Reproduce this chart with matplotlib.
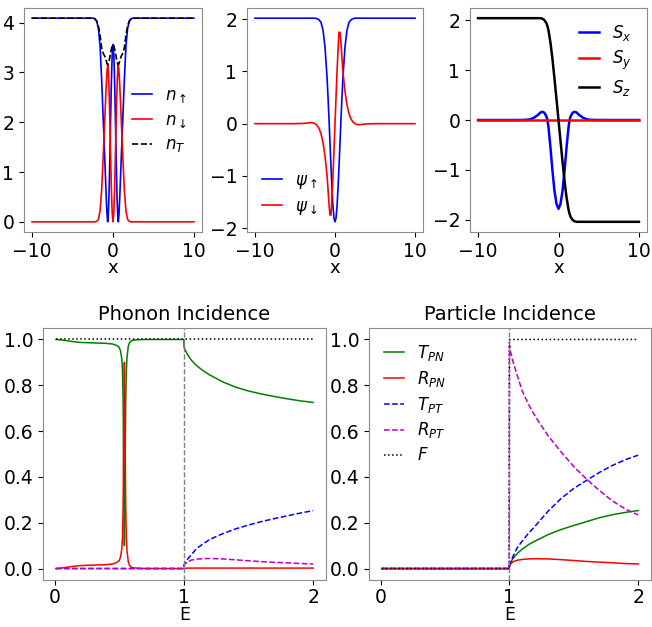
import matplotlib
matplotlib.use('Agg')
import matplotlib.pyplot as plt

# ---- top row: soliton profiles ----
x_n = [-10, -3, -2.5, -2.25, -2.0, -1.8, -1.6, -1.4, -1.2, -1.0, -0.85, -0.75, -0.66, -0.6, -0.5,
       -0.4, -0.3, -0.2, -0.1, 0, 0.1, 0.2, 0.3, 0.4, 0.5, 0.6, 0.66, 0.75, 0.85, 1.0,
       1.2, 1.4, 1.6, 1.8, 2.0, 2.25, 2.5, 3, 10]
n_up = [4.09, 4.09, 4.09, 4.08, 4.02, 3.88, 3.53, 2.85, 2.02, 1.2, 0.55, 0.18, 0.0, 0.07, 0.49,
        1.20, 2.03, 2.81, 3.36, 3.56, 3.36, 2.81, 2.03, 1.20, 0.49, 0.07, 0.0, 0.18, 0.55, 1.2,
        2.02, 2.85, 3.53, 3.88, 4.02, 4.08, 4.09, 4.09, 4.09]
n_down = [0, 0, 0, 0.0, 0.01, 0.05, 0.22, 0.64, 1.36, 2.12, 2.7, 3.0, 3.16, 3.10, 2.72,
          2.10, 1.36, 0.66, 0.18, 0, 0.18, 0.66, 1.36, 2.10, 2.72, 3.10, 3.16, 3.0, 2.7, 2.12,
          1.36, 0.64, 0.22, 0.05, 0.01, 0.0, 0, 0, 0]
n_tot = [4.09, 4.09, 4.09, 4.08, 4.03, 3.93, 3.75, 3.49, 3.38, 3.32, 3.25, 3.18, 3.16, 3.17, 3.21,
         3.30, 3.39, 3.47, 3.54, 3.56, 3.54, 3.47, 3.39, 3.30, 3.21, 3.17, 3.16, 3.18, 3.25, 3.32,
         3.38, 3.49, 3.75, 3.93, 4.03, 4.08, 4.09, 4.09, 4.09]

x_psi = [-10, -5, -4, -3.5, -3, -2.75, -2.5, -2.25, -2, -1.75, -1.5, -1.25, -1.0, -0.875, -0.75,
         -0.625, -0.5, -0.375, -0.25, -0.125, 0, 0.125, 0.25, 0.375, 0.5, 0.625, 0.75, 0.875,
         1.0, 1.25, 1.5, 1.75, 2.0, 2.25, 2.5, 2.75, 3, 3.5, 4, 5, 10]
psi_up = [2.02, 2.02, 2.02, 2.02, 2.02, 2.02, 2.02, 2.01, 1.99, 1.94, 1.79, 1.47, 0.90, 0.52, 0.09,
          -0.37, -0.83, -1.25, -1.59, -1.81, -1.88, -1.81, -1.59, -1.25, -0.83, -0.37, 0.09, 0.52,
          0.90, 1.47, 1.79, 1.94, 1.99, 2.01, 2.02, 2.02, 2.02, 2.02, 2.02, 2.02, 2.02]
psi_down = [0, 0, 0.005, 0.012, 0.02, 0.015, 0.0, -0.03, -0.09, -0.19, -0.36, -0.62, -0.98, -1.25, -1.55,
            -1.75, -1.75, -1.40, -0.98, -0.50, 0, 0.50, 0.98, 1.40, 1.75, 1.75, 1.55, 1.25,
            0.98, 0.62, 0.36, 0.19, 0.09, 0.03, 0.0, -0.015, -0.02, -0.012, -0.005, 0, 0]

x_s = [-10, -5, -4, -3.5, -3, -2.5, -2.25, -2, -1.75, -1.5, -1.375, -1.25, -1, -0.75, -0.5, -0.25,
       0, 0.25, 0.5, 0.75, 1, 1.25, 1.375, 1.5, 1.75, 2, 2.25, 2.5, 3, 3.5, 4, 5, 10]
s_x = [0, 0, 0.004, 0.015, 0.05, 0.11, 0.15, 0.165, 0.145, 0.07, 0.0, -0.14, -0.55, -1.02, -1.42, -1.68,
       -1.78, -1.68, -1.42, -1.02, -0.55, -0.14, 0.0, 0.07, 0.145, 0.165, 0.15, 0.11, 0.05, 0.015, 0.004, 0, 0]
s_z = [2.04, 2.04, 2.04, 2.04, 2.04, 2.04, 2.04, 2.03, 2.0, 1.94, 1.88, 1.8, 1.55, 1.22, 0.83, 0.42,
       0, -0.42, -0.83, -1.22, -1.55, -1.8, -1.88, -1.94, -2.0, -2.03, -2.04, -2.04, -2.04, -2.04, -2.04, -2.04, -2.04]
x_sy = [-10, 10]
s_y = [0, 0]

# ---- bottom row: scattering coefficients ----
E_low = [0.01, 0.05, 0.1, 0.15, 0.2, 0.25, 0.3, 0.35, 0.4, 0.45, 0.48, 0.5, 0.51, 0.52, 0.525,
         0.53, 0.535, 0.54, 0.545, 0.55, 0.555, 0.56, 0.57, 0.58, 0.6, 0.65, 0.7, 0.8, 0.9, 1.0]
T_PN_ph_low = [1.0, 0.998, 0.994, 0.99, 0.987, 0.986, 0.985, 0.984, 0.983, 0.98, 0.974, 0.965, 0.95, 0.915, 0.87,
               0.74, 0.4, 0.1, 0.38, 0.72, 0.86, 0.92, 0.97, 0.987, 0.996, 0.999, 1.0, 1.0, 1.0, 1.0]
R_PN_ph_low = [0.0, 0.002, 0.006, 0.01, 0.013, 0.014, 0.015, 0.016, 0.017, 0.02, 0.026, 0.035, 0.05, 0.085, 0.13,
               0.26, 0.6, 0.9, 0.62, 0.28, 0.14, 0.08, 0.03, 0.013, 0.004, 0.001, 0.0, 0.0, 0.0, 0.0]

E_high = [1.001, 1.005, 1.01, 1.03, 1.06, 1.1, 1.15, 1.2, 1.3, 1.4, 1.5, 1.6, 1.7, 1.8, 1.9, 2.0]
T_PN_ph_high = [0.97, 0.962, 0.955, 0.932, 0.908, 0.885, 0.863, 0.845, 0.815, 0.792, 0.775, 0.762, 0.751, 0.741, 0.732, 0.725]
R_PN_ph_high = [0.001, 0.001, 0.001, 0.002, 0.002, 0.002, 0.002, 0.002, 0.002, 0.002, 0.002, 0.002, 0.002, 0.002, 0.002, 0.002]
T_PT_ph_high = [0.015, 0.02, 0.025, 0.042, 0.062, 0.088, 0.108, 0.127, 0.152, 0.173, 0.19, 0.205, 0.218, 0.23, 0.242, 0.253]
R_PT_ph_high = [0.014, 0.018, 0.021, 0.03, 0.037, 0.041, 0.043, 0.044, 0.042, 0.038, 0.034, 0.03, 0.027, 0.025, 0.022, 0.02]

T_PN_pa_high = [0.01, 0.02, 0.027, 0.045, 0.065, 0.085, 0.105, 0.12, 0.148, 0.17, 0.188, 0.205, 0.222, 0.235, 0.245, 0.253]
R_PN_pa_high = [0.008, 0.015, 0.02, 0.03, 0.036, 0.04, 0.042, 0.043, 0.042, 0.039, 0.035, 0.031, 0.028, 0.025, 0.022, 0.02]
T_PT_pa_high = [0.01, 0.02, 0.03, 0.055, 0.09, 0.12, 0.155, 0.185, 0.25, 0.305, 0.35, 0.385, 0.42, 0.45, 0.475, 0.495]
R_PT_pa_high = [0.975, 0.96, 0.945, 0.9, 0.845, 0.775, 0.715, 0.665, 0.58, 0.51, 0.445, 0.39, 0.34, 0.295, 0.26, 0.234]

E_ph_zero = [0.01, 1.0]       # phonon T_PT / R_PT below the gap
E_pa_zero = [0.01, 0.999]     # particle channels below the gap
zero2 = [0.0, 0.0]
E_F_ph = [0.01, 2.0]
F_ph = [1.0, 1.0]
E_F_pa = [0.01, 0.999, 1.0, 2.0]
F_pa = [0.0, 0.0, 1.0, 1.0]

labels_pa = [r'$T_{PN}$', r'$R_{PN}$', r'$T_{PT}$', r'$R_{PT}$', r'$F$']

# ---- figure ----
W, H = 652, 627
plt.rcParams['font.size'] = 13.5
plt.rcParams['axes.labelsize'] = 13
plt.rcParams['axes.edgecolor'] = '0.55'
fig = plt.figure(figsize=(W / 100, H / 100), dpi=100)


def box(l, t, r, b):
    return [l / W, 1 - b / H, (r - l) / W, (b - t) / H]


leg_kw = dict(frameon=False, fontsize=12, handlelength=1.2, labelspacing=0.35)

ax1 = fig.add_axes(box(24, 8, 202, 232))
ax1.plot(x_n, n_up, 'b', lw=1.2, label=r'$n_\uparrow$')
ax1.plot(x_n, n_down, 'r', lw=1.2, label=r'$n_\downarrow$')
ax1.plot(x_n, n_tot, 'k--', lw=1.2, label=r'$n_T$')
ax1.set_xlabel('x', labelpad=-1)
ax1.legend(loc='center right', **leg_kw)

ax2 = fig.add_axes(box(247, 8, 423, 232))
ax2.plot(x_psi, psi_up, 'b', lw=1.2, label=r'$\psi_\uparrow$')
ax2.plot(x_psi, psi_down, 'r', lw=1.2, label=r'$\psi_\downarrow$')
ax2.set_xlabel('x', labelpad=-1)
ax2.legend(loc='lower left', **leg_kw)

ax3 = fig.add_axes(box(470, 8, 647, 232))
ax3.plot(x_s, s_x, 'b', lw=1.8, label=r'$S_x$')
ax3.plot(x_sy, s_y, 'r', lw=1.8, label=r'$S_y$')
ax3.plot(x_s, s_z, 'k', lw=1.8, label=r'$S_z$')
ax3.set_xlabel('x', labelpad=-1)
ax3.legend(loc='upper right', **leg_kw)

ax4 = fig.add_axes(box(43, 328, 326, 580))
ax4.plot(E_low + E_high, T_PN_ph_low + T_PN_ph_high, 'g', lw=1.1)
ax4.plot(E_low + E_high, R_PN_ph_low + R_PN_ph_high, 'r', lw=1.1)
ax4.plot(E_ph_zero + E_high, zero2 + T_PT_ph_high, 'b--', lw=1.1)
ax4.plot(E_ph_zero + E_high, zero2 + R_PT_ph_high, 'm--', lw=1.1)
ax4.plot(E_F_ph, F_ph, 'k:', lw=1.1)
ax4.axvline(1.0, color='gray', ls='--', lw=1.0)
ax4.set_title('Phonon Incidence', fontsize=14)
ax4.set_xlabel('E', fontsize=12.5, labelpad=-0.5)
ax4.set_xticks([0, 1, 2])
ax4.tick_params(axis='x', pad=2)

ax5 = fig.add_axes(box(369, 328, 651, 580))
ax5.plot(E_pa_zero + E_high, zero2 + T_PN_pa_high, 'g', lw=1.1, label=labels_pa[0])
ax5.plot(E_pa_zero + E_high, zero2 + R_PN_pa_high, 'r', lw=1.1, label=labels_pa[1])
ax5.plot(E_pa_zero + E_high, zero2 + T_PT_pa_high, 'b--', lw=1.1, label=labels_pa[2])
ax5.plot(E_pa_zero + E_high, zero2 + R_PT_pa_high, 'm--', lw=1.1, label=labels_pa[3])
ax5.plot(E_F_pa, F_pa, 'k:', lw=1.1, label=labels_pa[4])
ax5.axvline(1.0, color='gray', ls='--', lw=1.0)
ax5.set_title('Particle Incidence', fontsize=14)
ax5.set_xlabel('E', fontsize=12.5, labelpad=-0.5)
ax5.set_xticks([0, 1, 2])
ax5.tick_params(axis='x', pad=2)
ax5.legend(loc='upper left', **leg_kw)

fig.savefig('out.png', dpi=100)
